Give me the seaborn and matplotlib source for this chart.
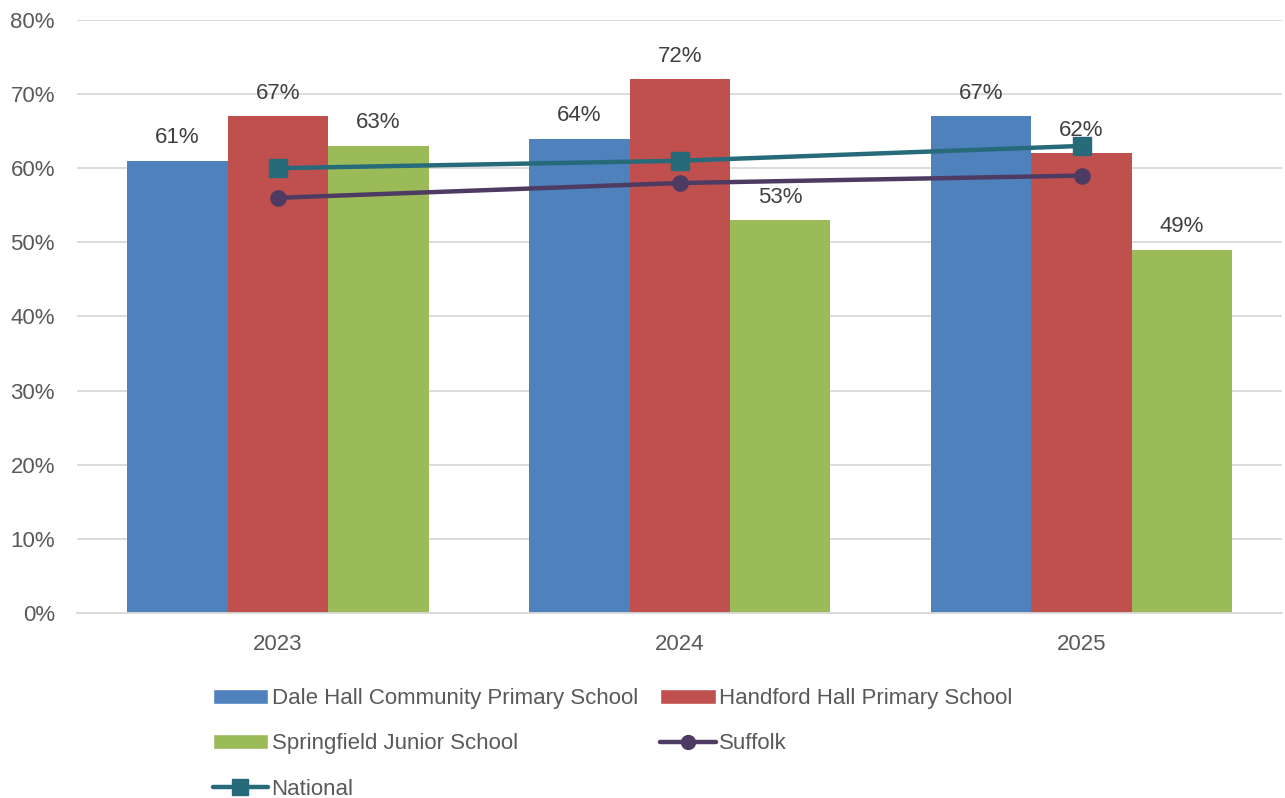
import matplotlib
matplotlib.use('Agg')
import matplotlib.pyplot as plt
import numpy as np
import pandas as pd
import seaborn as sns
from matplotlib.lines import Line2D
from matplotlib.patches import Patch

years = ['2023', '2024', '2025']
schools = ['Dale Hall Community Primary School', 'Handford Hall Primary School',
           'Springfield Junior School']
dale_hall = [61, 64, 67]
handford_hall = [67, 72, 62]
springfield = [63, 53, 49]
suffolk = [56, 58, 59]
national = [60, 61, 63]

bar_colors = ['#4F81BD', '#C0504D', '#9BBB59']
suffolk_color = '#4D3B63'
national_color = '#276A79'
text_color = '#595959'
grid_color = '#D9D9D9'

sns.set_style('white')
plt.rcParams['font.family'] = ['Liberation Sans', 'DejaVu Sans']

df = pd.DataFrame({
    'year': years * 3,
    'school': [s for s in schools for _ in years],
    'value': dale_hall + handford_hall + springfield,
})

fig = plt.figure(figsize=(12.85, 7.98), dpi=100)
ax = fig.add_axes([0.060, 0.232, 0.938, 0.743])

sns.barplot(data=df, x='year', y='value', hue='school', order=years, hue_order=schools,
            palette=bar_colors, saturation=1, width=0.75, legend=False, ax=ax,
            edgecolor='none', linewidth=0)

for cont in ax.containers:
    ax.bar_label(cont, fmt='%d%%', padding=9, fontsize=16, color='#404040')

x = np.arange(len(years))
ax.plot(x, suffolk, color=suffolk_color, lw=3.2, marker='o', markersize=11, zorder=5)
ax.plot(x, national, color=national_color, lw=3.2, marker='s', markersize=13, zorder=5)

ax.set_ylim(0, 80)
ax.set_xlim(-0.5, 2.5)
ax.set_yticks(range(0, 81, 10))
ax.set_yticklabels([f'{v}%' for v in range(0, 81, 10)])
ax.yaxis.grid(True, color=grid_color, lw=1.3)
ax.set_axisbelow(True)
ax.tick_params(axis='both', length=0, labelsize=16, labelcolor=text_color)
ax.tick_params(axis='y', pad=16)
ax.tick_params(axis='x', pad=15)
ax.set_xlabel('')
ax.set_ylabel('')
for side in ['top', 'right', 'left']:
    ax.spines[side].set_visible(False)
ax.spines['bottom'].set_color(grid_color)
ax.spines['bottom'].set_linewidth(1.3)

# legend order is column-major in matplotlib, so reorder to get Excel's row layout
handles = [
    Patch(facecolor=bar_colors[0]),
    Patch(facecolor=bar_colors[2]),
    Line2D([], [], color=national_color, lw=3.2, marker='s', markersize=11),
    Patch(facecolor=bar_colors[1]),
    Line2D([], [], color=suffolk_color, lw=3.2, marker='o', markersize=10),
]
labels = [schools[0], schools[2], 'National', schools[1], 'Suffolk']
fig.legend(handles, labels, ncol=2, loc='upper left', bbox_to_anchor=(0.1655, 0.1375),
           frameon=False, prop={'family': ['Liberation Sans Narrow', 'Liberation Sans'], 'size': 16},
           labelcolor=text_color, handlelength=2.5, handleheight=0.65, handletextpad=0.15,
           columnspacing=1.0, labelspacing=1.09, borderpad=0, borderaxespad=0)

fig.savefig('out.png', dpi=100)
